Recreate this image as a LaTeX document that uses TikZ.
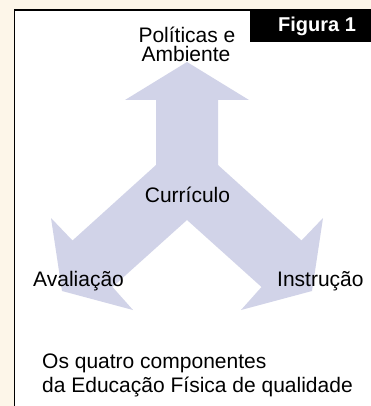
\documentclass[tikz,border=0pt]{standalone}
\usepackage{fontspec}
\setmainfont{Liberation Sans}
\definecolor{cream}{HTML}{FDF6E9}
\definecolor{lav}{HTML}{D1D3E8}
\begin{document}
\begin{tikzpicture}[x=1pt,y=-1pt,
  lbl/.style={font=\fontsize{21}{24}\selectfont, inner sep=0pt}]
\useasboundingbox (0,0) rectangle (371,406);
\fill[cream] (0,0) rectangle (371,406);
\clip (0,0) rectangle (371,406);
\draw[line width=1.3pt, fill=white] (14.5,10) rectangle (390,420);
\fill[black] (250,10) rectangle (371,42);
\node[anchor=base west, inner sep=0pt, text=white, font=\bfseries\fontsize{20}{24}\selectfont] (fig) at (278,32) {Figura 1};
\fill[lav] (187,62) -- (249,100) -- (218,100) -- (218,165) -- (301.5,240.5) -- (323,218)
  -- (312,291) -- (241,310) -- (261.5,287) -- (187,220) -- (112.5,287) -- (133,310)
  -- (62,291) -- (51,218) -- (72.5,240.5) -- (156,165) -- (156,100) -- (125,100) -- cycle;
\node[lbl, anchor=base] (pol) at (187,43) {Políticas e};
\node[lbl, anchor=base] (amb) at (186,62) {Ambiente};
\node[lbl, anchor=base] (cur) at (187.5,202) {Currículo};
\node[lbl, anchor=base west] (ava) at (33,286) {Avaliação};
\node[lbl, anchor=base west] (ins) at (277,286) {Instrução};
\node[lbl, anchor=base west] (cap1) at (42,368) {Os quatro componentes};
\node[lbl, anchor=base west] (cap2) at (42,392) {da Educação Física de qualidade};
\end{tikzpicture}
\end{document}
